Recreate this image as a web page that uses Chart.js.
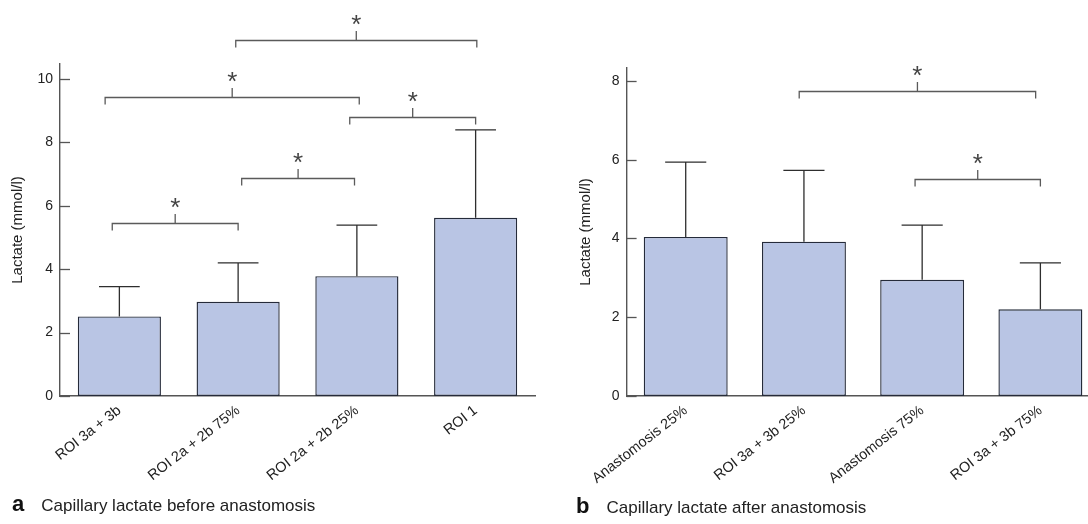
<!DOCTYPE html>
<html>
<head>
<meta charset="utf-8">
<script src="https://cdn.jsdelivr.net/npm/chart.js@4.4.1/dist/chart.umd.min.js"></script>
<style>
  html, body { margin: 0; padding: 0; background: #fff; overflow: hidden; width: 1088px; height: 524px; }
  .wrap { position: absolute; top: 0; }
  .cap { position: absolute; white-space: nowrap; font-family: 'Liberation Sans', Arial, sans-serif; color: #222; font-size: 22px; line-height: 24px; }
  .cap b { font-size: 22px; font-weight: bold; color: #111; }
  .cap span { font-size: 17px; margin-left: 17px; }
</style>
</head>
<body>
<div class="wrap" style="left:0;width:544px;height:524px;"><canvas id="ca"></canvas></div>
<div class="wrap" style="left:544px;width:570px;height:524px;"><canvas id="cb"></canvas></div>
<div class="cap" style="left:12px;top:492px;"><b>a</b><span>Capillary lactate before anastomosis</span></div>
<div class="cap" style="left:576px;top:494px;"><b>b</b><span>Capillary lactate after anastomosis</span></div>
<script>
// ---- data ----
const categoriesA = ['ROI 3a + 3b', 'ROI 2a + 2b 75%', 'ROI 2a + 2b 25%', 'ROI 1'];
const meansA = [2.51, 2.97, 3.78, 5.62];
const sdA = [0.94, 1.23, 1.61, 2.77];
const yTicksA = [0, 2, 4, 6, 8, 10];
// [from category index, to category index, height]
const bracketsA = [[-0.06, 1.0, 5.45], [1.03, 1.98, 6.89], [-0.12, 2.02, 9.43], [1.94, 3.0, 8.81], [0.98, 3.01, 11.23]];

const categoriesB = ['Anastomosis 25%', 'ROI 3a + 3b 25%', 'Anastomosis 75%', 'ROI 3a + 3b 75%'];
const meansB = [4.04, 3.92, 2.95, 2.2];
const sdB = [1.90, 1.81, 1.39, 1.18];
const yTicksB = [0, 2, 4, 6, 8];
const bracketsB = [[0.96, 2.96, 7.75], [1.94, 3.0, 5.51]];

const yTitle = 'Lactate (mmol/l)';
const FONT = "'Liberation Sans', Arial, sans-serif";

const overlay = {
  id: 'overlay',
  afterDatasetsDraw(chart, args, o) {
    const {ctx, chartArea, scales: {x, y}} = chart;
    const meta = chart.getDatasetMeta(0);
    ctx.save();
    // error bars
    ctx.strokeStyle = '#2e2e2e';
    ctx.lineWidth = 1.3;
    o.sd.forEach((s, i) => {
      const bar = meta.data[i];
      const top = y.getPixelForValue(o.mean[i] + s);
      const half = bar.width * 0.245;
      ctx.beginPath();
      ctx.moveTo(bar.x, bar.y);
      ctx.lineTo(bar.x, top);
      ctx.moveTo(bar.x - half, top);
      ctx.lineTo(bar.x + half, top);
      ctx.stroke();
    });
    // inward y ticks
    ctx.strokeStyle = '#555';
    ctx.lineWidth = 1.3;
    o.ticks.forEach(v => {
      const py = Math.round(y.getPixelForValue(v)) + 0.5;
      ctx.beginPath();
      ctx.moveTo(chartArea.left, py);
      ctx.lineTo(chartArea.left + 10, py);
      ctx.stroke();
    });
    // significance brackets
    ctx.strokeStyle = '#5a5a5a';
    ctx.fillStyle = '#444';
    ctx.font = '26px ' + FONT;
    ctx.textAlign = 'center';
    const m = ctx.measureText('*');
    const asc = m.actualBoundingBoxAscent, desc = m.actualBoundingBoxDescent;
    o.brackets.forEach(([a, b, v]) => {
      const x1 = x.getPixelForValue(a), x2 = x.getPixelForValue(b);
      const py = Math.round(y.getPixelForValue(v)) + 0.5;
      const xc = (x1 + x2) / 2;
      ctx.beginPath();
      ctx.moveTo(x1, py + 7);
      ctx.lineTo(x1, py);
      ctx.lineTo(x2, py);
      ctx.lineTo(x2, py + 7);
      ctx.moveTo(xc, py);
      ctx.lineTo(xc, py - 9.5);
      ctx.stroke();
      const cy = py - 20.5;
      ctx.fillText('*', xc, cy + (asc - desc) / 2);
    });
    ctx.restore();
  }
};

function makeChart(id, cats, means, sd, ticks, brackets, ymax, padTop, padRight, axisW, titlePad, barPct) {
  return new Chart(document.getElementById(id), {
    type: 'bar',
    data: {
      labels: cats,
      datasets: [{
        data: means,
        backgroundColor: '#b9c5e4',
        borderColor: '#252b3a',
        borderWidth: 1.4,
        borderSkipped: false,
        barPercentage: barPct,
        categoryPercentage: 1.0
      }]
    },
    options: {
      responsive: true,
      maintainAspectRatio: false,
      animation: false,
      layout: { padding: { top: padTop, right: padRight, left: 0, bottom: 0 } },
      plugins: {
        legend: { display: false },
        tooltip: { enabled: false },
        overlay: { mean: means, sd: sd, ticks: ticks, brackets: brackets }
      },
      scales: {
        x: {
          grid: { display: false, drawTicks: false },
          border: { display: true, color: '#555', width: 1.4 },
          ticks: {
            autoSkip: false, minRotation: 38, maxRotation: 38, padding: 6,
            color: '#222', font: { family: FONT, size: 14.5 }
          },
          afterFit(s) { s.height = 128; }
        },
        y: {
          min: 0, max: ymax,
          grid: { display: false, drawTicks: false },
          border: { display: true, color: '#555', width: 1.4 },
          ticks: { padding: 7, color: '#222', font: { family: FONT, size: 14 } },
          afterBuildTicks(s) { s.ticks = ticks.map(v => ({ value: v })); },
          afterFit(s) { s.width = axisW; },
          title: {
            display: true, text: yTitle, color: '#222',
            font: { family: FONT, size: 15 },
            padding: { top: titlePad, bottom: 0 }
          }
        }
      }
    },
    plugins: [overlay]
  });
}

makeChart('ca', categoriesA, meansA, sdA, yTicksA, bracketsA, 10.47, 64, 9, 60, 8.5, 0.70);
makeChart('cb', categoriesB, meansB, sdB, yTicksB, bracketsB, 8.33, 68, 14.5, 82.6, 33, 0.71);
</script>
</body>
</html>
